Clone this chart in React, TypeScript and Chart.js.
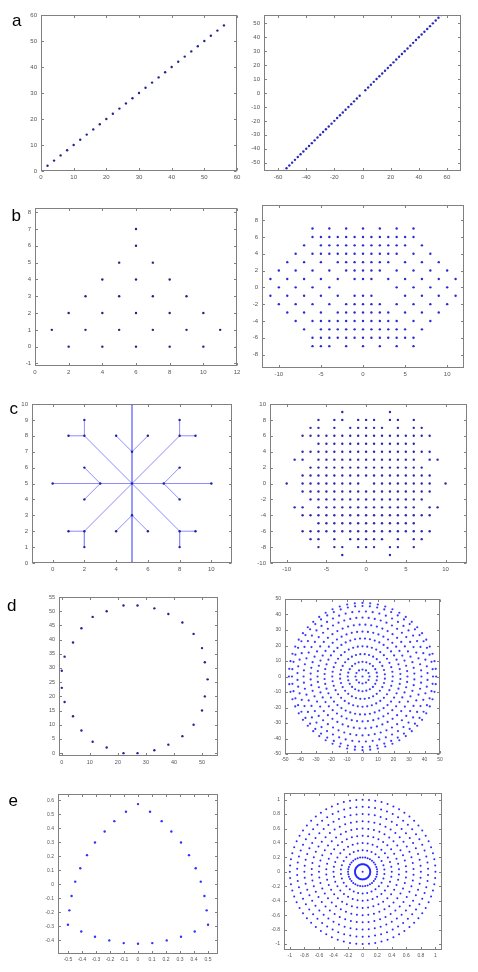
import React, { useEffect, useRef } from "react";
import { Chart, registerables } from "chart.js";
Chart.register(...registerables);

// ---------- panel a ----------
const aLeftValues = [0, 2, 4, 6, 8, 10, 12, 14, 16, 18, 20, 22, 24, 26, 28, 30, 32, 34, 36, 38, 40, 42, 44, 46, 48, 50, 52, 54, 56];
const aRightValues = [-56, -54, -52, -50, -48, -46, -44, -42, -40, -38, -36, -34, -32, -30, -28, -26, -24, -22, -20, -18, -16, -14, -12, -10, -8, -6, -4, -2,
  2, 4, 6, 8, 10, 12, 14, 16, 18, 20, 22, 24, 26, 28, 30, 32, 34, 36, 38, 40, 42, 44, 46, 48, 50, 52, 54, 56];
const aLeftTicks = [0, 10, 20, 30, 40, 50, 60];
const aRightXTicks = [-60, -40, -20, 0, 20, 40, 60];
const aRightYTicks = [-50, -40, -30, -20, -10, 0, 10, 20, 30, 40, 50];

// ---------- panel b ----------
const bLeftX = [1, 2, 2, 3, 3, 4, 4, 4, 5, 5, 5, 6, 6, 6, 6, 6, 7, 7, 7, 8, 8, 8, 9, 9, 10, 10, 11, 12];
const bLeftY = [1, 2, 0, 3, 1, 4, 2, 0, 5, 3, 1, 7, 6, 4, 2, 0, 5, 3, 1, 4, 2, 0, 3, 1, 2, 0, 1, 0];
const bLeftXTicks = [0, 2, 4, 6, 8, 10, 12];
const bLeftYTicks = [-1, 0, 1, 2, 3, 4, 5, 6, 7, 8];
const bRightRowY = [7, 6, 5, 4, 3, 2, 1, 0, -1, -2, -3, -4, -5, -6, -7];
const bRightRowX = [
  [-6, -4, -2, 0, 2, 4, 6],
  [-6, -5, -4, -3, -2, -1, 0, 1, 2, 3, 4, 5, 6],
  [-7, -5, -4, -3, -2, -1, 0, 1, 2, 3, 4, 5, 7],
  [-8, -6, -5, -4, -3, -2, -1, 0, 1, 2, 3, 4, 6, 8],
  [-9, -7, -5, -3, -2, -1, 0, 1, 2, 3, 5, 7, 9],
  [-10, -8, -6, -4, -2, -1, 0, 1, 2, 4, 6, 8, 10],
  [-11, -9, -7, -5, -3, -1, 0, 1, 3, 5, 7, 9, 11],
  [-12, -10, -8, -6, -4, 4, 6, 8, 10, 12],
  [-11, -9, -7, -5, -3, -1, 0, 1, 5, 7, 9, 11],
  [-10, -8, -6, -4, -2, -1, 0, 1, 2, 4, 6, 8, 10],
  [-9, -7, -5, -3, -2, -1, 0, 1, 2, 3, 5, 7, 9],
  [-8, -6, -5, -4, -3, -2, -1, 0, 1, 2, 3, 4, 6, 8],
  [-7, -5, -4, -3, -2, -1, 0, 1, 2, 3, 4, 5, 7],
  [-6, -5, -4, -3, -2, -1, 0, 1, 2, 3, 4, 5, 6],
  [-6, -5, -4, -2, 0, 2, 4, 6],
];
const bRightXTicks = [-10, -5, 0, 5, 10];
const bRightYTicks = [-8, -6, -4, -2, 0, 2, 4, 6, 8];

// ---------- panel c ----------
const cNodeX = [5, 5, 5, 0, 10, 2, 8, 2, 8, 1, 2, 9, 8, 1, 2, 9, 8, 5, 4, 6, 5, 4, 6, 3, 2, 2, 7, 8, 8];
const cNodeY = [5, 10, 0, 5, 5, 2, 8, 8, 2, 8, 9, 8, 9, 2, 1, 2, 1, 7, 8, 8, 3, 2, 2, 5, 6, 4, 5, 6, 4];
const cEdges = [[1, 2], [3, 4], [5, 6], [7, 8], [7, 9], [7, 10], [6, 11], [6, 12], [5, 13], [5, 14], [8, 15], [8, 16],
  [17, 18], [17, 19], [20, 21], [20, 22], [23, 24], [23, 25], [26, 27], [26, 28]];
const cLeftXTicks = [0, 2, 4, 6, 8, 10];
const cLeftYTicks = [0, 1, 2, 3, 4, 5, 6, 7, 8, 9, 10];
const cRightRowY = [10, 9, 8, 7, 6, 5, 4, 3, 2, 1, 0, -1, -2, -3, -4, -5, -6, -7, -8, -9, -10];
const cRightRowX = [
  [0],
  [-3, 3],
  [-6, -4, -3, -1, 0, 1, 3, 4, 6],
  [-7, -6, -4, -2, -1, 0, 1, 2, 4, 6, 7],
  [-8, -7, -6, -5, -4, -3, -2, -1, 0, 1, 2, 3, 4, 5, 6, 7, 8],
  [-6, -5, -4, -3, -2, -1, 0, 1, 2, 3, 4, 5, 6],
  [-8, -7, -6, -5, -4, -3, -2, -1, 0, 1, 2, 3, 4, 5, 6, 7, 8],
  [-9, -8, -6, -5, -4, -3, -2, -1, 0, 1, 2, 3, 4, 5, 6, 8, 9],
  [-7, -6, -5, -4, -3, -2, -1, 0, 1, 2, 3, 4, 5, 6, 7],
  [-8, -7, -6, -5, -4, -3, -2, -1, 0, 1, 2, 3, 4, 5, 6, 7, 8],
  [-10, -8, -7, -6, -5, -4, -3, -2, -1, 1, 2, 3, 4, 5, 6, 7, 8, 10],
  [-8, -7, -6, -5, -4, -3, -2, -1, 0, 1, 2, 3, 4, 5, 6, 7, 8],
  [-7, -6, -5, -4, -3, -2, -1, 0, 1, 2, 3, 4, 5, 6, 7],
  [-9, -8, -6, -5, -4, -3, -2, -1, 0, 1, 2, 3, 4, 5, 6, 8, 9],
  [-8, -7, -6, -5, -4, -3, -2, -1, 0, 1, 2, 3, 4, 5, 6, 7, 8],
  [-6, -5, -4, -3, -2, -1, 0, 1, 2, 3, 4, 5, 6],
  [-8, -7, -6, -5, -4, -3, -2, -1, 0, 1, 2, 3, 4, 5, 6, 7, 8],
  [-7, -6, -4, -2, -1, 0, 1, 2, 4, 6, 7],
  [-6, -4, -3, -1, 0, 1, 3, 4, 6],
  [-3, 3],
  [0],
];
const cRightXTicks = [-10, -5, 0, 5, 10];
const cRightYTicks = [-10, -8, -6, -4, -2, 0, 2, 4, 6, 8, 10];

// ---------- panel d ----------
const dLeftX = [0, 0, 1, 1, 4, 4, 7, 7, 11, 11, 16, 16, 22, 22, 27, 27, 33, 33, 38, 38, 43, 43, 47, 47, 50, 50, 51, 51, 52];
const dLeftY = [23, 29, 18, 34, 13, 39, 8, 44, 4, 48, 2, 50, 0, 52, 0, 52, 1, 51, 3, 49, 6, 46, 10, 42, 15, 37, 20, 32, 26];
const dLeftXTicks = [0, 10, 20, 30, 40, 50];
const dLeftYTicks = [0, 5, 10, 15, 20, 25, 30, 35, 40, 45, 50, 55];
const dRingRadii = [0, 4.5, 9.5, 14.5, 19.5, 24.5, 29, 33.5, 38, 42, 45.5, 47.5];
const dRingCounts = [1, 12, 24, 32, 40, 48, 52, 56, 60, 60, 60, 60];
const dRingPhase = [0, 0, 0, 0.5, 0, 0.5, 0, 0.5, 0, 0.5, 0, 0];
const dRightTicks = [-50, -40, -30, -20, -10, 0, 10, 20, 30, 40, 50];

// ---------- panel e ----------
const eLeftX = [0, -0.086, 0.086, -0.169, 0.169, -0.238, 0.238, -0.307, 0.307, -0.364, 0.364, -0.412, 0.412, -0.448, 0.448,
  -0.474, 0.474, -0.49, 0.49, -0.5, 0.5, -0.405, 0.405, -0.307, 0.307, -0.205, 0.205, -0.102, 0.102, 0];
const eLeftY = [0.573, 0.518, 0.518, 0.451, 0.451, 0.377, 0.377, 0.298, 0.298, 0.208, 0.208, 0.115, 0.115, 0.019, 0.019,
  -0.084, -0.084, -0.186, -0.186, -0.289, -0.289, -0.337, -0.337, -0.375, -0.375, -0.401, -0.401, -0.42, -0.42, -0.425];
const eLeftXTicks = [-0.5, -0.4, -0.3, -0.2, -0.1, 0, 0.1, 0.2, 0.3, 0.4, 0.5];
const eLeftYTicks = [-0.4, -0.3, -0.2, -0.1, 0, 0.1, 0.2, 0.3, 0.4, 0.5, 0.6];
const eRingRadii = [0, 0.105, 0.2, 0.3, 0.4, 0.5, 0.6, 0.7, 0.8, 0.9, 1.0];
const eRingCounts = [1, 48, 36, 30, 36, 42, 48, 54, 60, 66, 72];
const eRingPhase = [0, 0, 0, 0.5, 0, 0.5, 0, 0.5, 0, 0.5, 0];
const eRightTicks = [-1, -0.8, -0.6, -0.4, -0.2, 0, 0.2, 0.4, 0.6, 0.8, 1];

// ---------- helpers ----------
type P = { x: number; y: number };
const zip = (xs: number[], ys: number[]): P[] => xs.map((x, i) => ({ x, y: ys[i] }));
const rows = (ys: number[], xs: number[][]): P[] => ys.flatMap((y, i) => xs[i].map((x) => ({ x, y })));
const rings = (radii: number[], counts: number[], phase: number[]): P[] =>
  radii.flatMap((r, i) =>
    Array.from({ length: counts[i] }, (_, k) => {
      const a = (2 * Math.PI * (k + phase[i])) / counts[i];
      return { x: r * Math.cos(a), y: r * Math.sin(a) };
    })
  );
const fmt = (v: number) => String(Math.round(v * 1000) / 1000);
const pts = (data: P[], color: string, r = 1.2) => ({
  data,
  showLine: false,
  pointRadius: r,
  pointHoverRadius: 0,
  pointBorderWidth: 0,
  pointBackgroundColor: color,
  pointStyle: "circle",
});

const framePlugin = {
  id: "frame",
  afterDraw(chart: any) {
    const { ctx, chartArea: a, scales } = chart;
    const L = Math.round(a.left) + 0.5;
    const R = Math.round(a.right) - 0.5;
    const T = Math.round(a.top) + 0.5;
    const B = Math.round(a.bottom) - 0.5;
    ctx.save();
    ctx.strokeStyle = "#808080";
    ctx.lineWidth = 1;
    ctx.strokeRect(L, T, R - L, B - T);
    const tl = 2.5;
    ctx.beginPath();
    for (const t of scales.x.ticks) {
      const px = Math.round(scales.x.getPixelForValue(t.value)) + 0.5;
      ctx.moveTo(px, B);
      ctx.lineTo(px, B - tl);
      ctx.moveTo(px, T);
      ctx.lineTo(px, T + tl);
    }
    for (const t of scales.y.ticks) {
      const py = Math.round(scales.y.getPixelForValue(t.value)) + 0.5;
      ctx.moveTo(L, py);
      ctx.lineTo(L + tl, py);
      ctx.moveTo(R, py);
      ctx.lineTo(R - tl, py);
    }
    ctx.stroke();
    ctx.restore();
  },
};

type PanelProps = {
  box: [number, number, number, number];
  xr: [number, number];
  yr: [number, number];
  xTicks: number[];
  yTicks: number[];
  font: number;
  datasets: any[];
};

function Panel({ box, xr, yr, xTicks, yTicks, font, datasets }: PanelProps) {
  const ref = useRef<HTMLCanvasElement>(null);
  const PL = 34, PR = 12, PT = 8, PB = 14;
  const l = Math.round(box[0]), t = Math.round(box[1]), r = Math.round(box[2]), b = Math.round(box[3]);
  const w = r - l + PL + PR;
  const h = b - t + PT + PB;
  useEffect(() => {
    const tickFont = { size: font, family: "'Liberation Sans', Arial, sans-serif" };
    const chart = new Chart(ref.current as HTMLCanvasElement, {
      type: "scatter",
      data: { datasets },
      options: {
        animation: false,
        responsive: false,
        devicePixelRatio: 1,
        layout: { padding: { left: 0, top: PT, right: PR, bottom: 0 } },
        plugins: { legend: { display: false }, tooltip: { enabled: false } },
        events: [],
        scales: {
          x: {
            type: "linear",
            min: xr[0],
            max: xr[1],
            grid: { display: false, drawTicks: false },
            border: { display: false },
            afterBuildTicks: (s: any) => {
              s.ticks = xTicks.map((v) => ({ value: v }));
            },
            afterFit: (s: any) => {
              s.height = PB;
              s.paddingLeft = 0;
              s.paddingRight = 0;
            },
            ticks: {
              padding: 3,
              font: tickFont,
              color: "#555555",
              maxRotation: 0,
              minRotation: 0,
              autoSkip: false,
              callback: (v: any) => fmt(Number(v)),
            },
          },
          y: {
            type: "linear",
            min: yr[0],
            max: yr[1],
            grid: { display: false, drawTicks: false },
            border: { display: false },
            afterBuildTicks: (s: any) => {
              s.ticks = yTicks.map((v) => ({ value: v }));
            },
            afterFit: (s: any) => {
              s.width = PL;
              s.paddingTop = 0;
              s.paddingBottom = 0;
            },
            ticks: {
              padding: 4,
              font: tickFont,
              color: "#555555",
              autoSkip: false,
              callback: (v: any) => fmt(Number(v)),
            },
          },
        },
      } as any,
      plugins: [framePlugin],
    });
    return () => chart.destroy();
  }, []);
  return (
    <canvas
      ref={ref}
      width={w}
      height={h}
      style={{ position: "absolute", left: l - PL, top: t - PT, width: w, height: h }}
    />
  );
}

const letterStyle = (left: number, top: number): React.CSSProperties => ({
  position: "absolute",
  left,
  top,
  fontFamily: "'Liberation Sans', Arial, sans-serif",
  fontSize: 17,
  lineHeight: "17px",
  color: "#000",
});

export default function App() {
  const cEdgeSets = cEdges.map(([i, j]) => ({
    data: [
      { x: cNodeX[i], y: cNodeY[i] },
      { x: cNodeX[j], y: cNodeY[j] },
    ],
    showLine: true,
    borderColor: "#8c8cff",
    borderWidth: 1,
    pointRadius: 0,
    pointHoverRadius: 0,
  }));
  return (
    <div style={{ position: "fixed", left: 0, top: 0, width: 478, height: 972, background: "#fff", overflow: "hidden" }}>
      <Panel box={[40.7, 15, 237.3, 170.7]} xr={[0, 60]} yr={[0, 60]} xTicks={aLeftTicks} yTicks={aLeftTicks} font={6}
        datasets={[pts(zip(aLeftValues, aLeftValues), "#24248a")]} />
      <Panel box={[264, 15, 460.7, 170.7]} xr={[-70, 70]} yr={[-56, 56]} xTicks={aRightXTicks} yTicks={aRightYTicks} font={6}
        datasets={[pts(zip(aRightValues, aRightValues), "#2a2ab8")]} />
      <Panel box={[35, 207.7, 237.3, 366]} xr={[0, 12]} yr={[-1.15, 8.25]} xTicks={bLeftXTicks} yTicks={bLeftYTicks} font={6}
        datasets={[pts(zip(bLeftX, bLeftY), "#23237e")]} />
      <Panel box={[262, 205, 463.7, 367.7]} xr={[-12, 12]} yr={[-9.6, 9.8]} xTicks={bRightXTicks} yTicks={bRightYTicks} font={6}
        datasets={[pts(rows(bRightRowY, bRightRowX), "#2a2ad0")]} />
      <Panel box={[32.3, 404.3, 232.3, 563.3]} xr={[-1.3, 11.3]} yr={[0, 10]} xTicks={cLeftXTicks} yTicks={cLeftYTicks} font={6}
        datasets={[pts(zip(cNodeX, cNodeY), "#2020a0"), ...cEdgeSets]} />
      <Panel box={[269.7, 404.3, 467.3, 563.3]} xr={[-12.1, 12.7]} yr={[-10, 10]} xTicks={cRightXTicks} yTicks={cRightYTicks} font={6}
        datasets={[pts(rows(cRightRowY, cRightRowX), "#2a2ab0")]} />
      <Panel box={[59.3, 597.3, 218.3, 756]} xr={[-1, 55.7]} yr={[-1, 55]} xTicks={dLeftXTicks} yTicks={dLeftYTicks} font={5.5}
        datasets={[pts(zip(dLeftX, dLeftY), "#25258f")]} />
      <Panel box={[284.7, 599, 439.7, 754.3]} xr={[-50, 50]} yr={[-50, 50]} xTicks={dRightTicks} yTicks={dRightTicks} font={5}
        datasets={[pts(rings(dRingRadii, dRingCounts, dRingPhase), "#3a3aff", 1.1)]} />
      <Panel box={[58.3, 794, 218.3, 953.7]} xr={[-0.571, 0.571]} yr={[-0.498, 0.645]} xTicks={eLeftXTicks} yTicks={eLeftYTicks} font={5}
        datasets={[pts(zip(eLeftX, eLeftY), "#3030ff")]} />
      <Panel box={[284, 792.7, 442, 950]} xr={[-1.08, 1.09]} yr={[-1.083, 1.092]} xTicks={eRightTicks} yTicks={eRightTicks} font={5}
        datasets={[pts(rings(eRingRadii, eRingCounts, eRingPhase), "#2828ff", 1)]} />
      <div style={letterStyle(12, 12.3)}>a</div>
      <div style={letterStyle(11.5, 207.3)}>b</div>
      <div style={letterStyle(9.5, 400)}>c</div>
      <div style={letterStyle(7, 597.3)}>d</div>
      <div style={letterStyle(8.5, 792.3)}>e</div>
    </div>
  );
}
